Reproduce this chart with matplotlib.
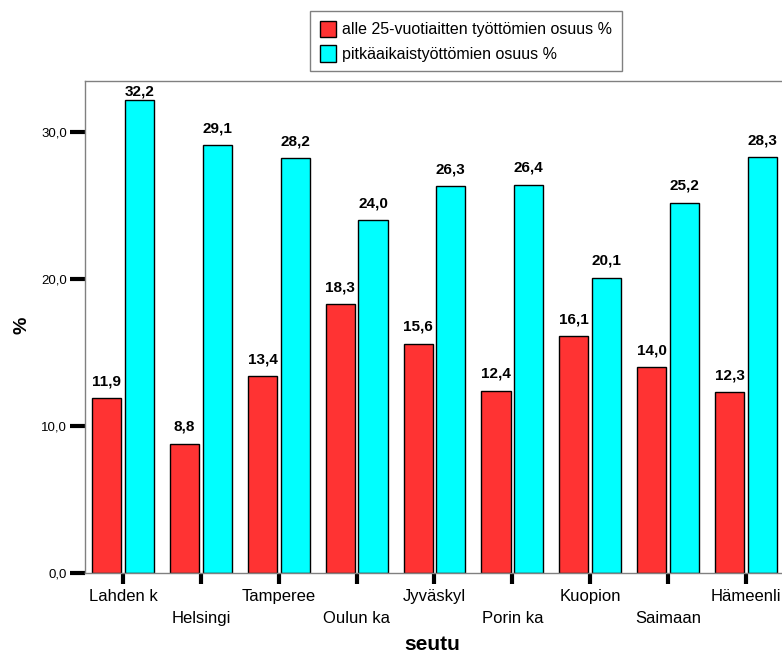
import matplotlib
matplotlib.use("Agg")
import matplotlib.pyplot as plt
import numpy as np

plt.rcParams['font.family'] = ['Liberation Sans', 'DejaVu Sans']

categories = ["Lahden k", "Helsingi", "Tamperee", "Oulun ka", "Jyväskyl",
              "Porin ka", "Kuopion", "Saimaan", "Hämeenli"]
young = [11.9, 8.8, 13.4, 18.3, 15.6, 12.4, 16.1, 14.0, 12.3]
longterm = [32.2, 29.1, 28.2, 24.0, 26.3, 26.4, 20.1, 25.2, 28.3]
series_names = ["alle 25-vuotiaitten työttömien osuus %", "pitkäaikaistyöttömien osuus %"]
yticks = [0, 10, 20, 30]

fig = plt.figure(figsize=(7.82, 6.55), dpi=100)
ax = fig.add_axes([85/782, (655-573)/655, (784-85)/782, (573-81)/655])

x = np.arange(len(categories))
w = 0.375
off = 0.21
b1 = ax.bar(x - off, young, w, color='#FF3333', edgecolor='black', linewidth=1.0,
            label=series_names[0])
b2 = ax.bar(x + off, longterm, w, color='#00FFFF', edgecolor='black', linewidth=1.0,
            label=series_names[1])

ytop = 33.47
ax.set_xlim(-0.49, 8.49)
ax.set_ylim(0, ytop)

for bars, vals in ((b1, young), (b2, longterm)):
    for rect, v in zip(bars, vals):
        ypos = min(v + 0.88, ytop - 1.02)
        ax.text(rect.get_x() + rect.get_width()/2, ypos,
                f"{v:.1f}".replace('.', ','), ha='center', va='baseline',
                fontsize=11, fontweight='bold')

ax.set_yticks(yticks)
ax.set_yticklabels([f"{t:.1f}".replace('.', ',') for t in yticks], fontsize=9.5)
ax.tick_params(axis='y', length=11, width=3, direction='out', pad=2, color='black')
ax.set_xticks(x)
ax.set_xticklabels([])
ax.tick_params(axis='x', length=8, width=3, direction='out', color='black')

for i, c in enumerate(categories):
    ypos = -0.033 if i % 2 == 0 else -0.078
    ax.text(i, ypos, c, transform=ax.get_xaxis_transform(), ha='center', va='top',
            fontsize=12)

for s in ['left', 'bottom', 'top', 'right']:
    ax.spines[s].set_color('#808080')
    ax.spines[s].set_linewidth(1.0)

fig.text(22/782, 1 - 325/655, '%', rotation=90, ha='center', va='center',
         fontsize=14, fontweight='bold')
fig.text(432/782, 1 - 644/655, 'seutu', ha='center', va='center',
         fontsize=15, fontweight='bold')

leg = ax.legend(loc='upper left', bbox_to_anchor=(310/782, 1 - 11/655),
                bbox_transform=fig.transFigure, fontsize=11.5, frameon=True,
                fancybox=False, edgecolor='#606060', handlelength=1.0,
                handleheight=1.2, handletextpad=0.4, borderpad=0.6, labelspacing=0.5,
                borderaxespad=0)
leg.get_frame().set_linewidth(1.0)

fig.savefig("out.png", dpi=100)
